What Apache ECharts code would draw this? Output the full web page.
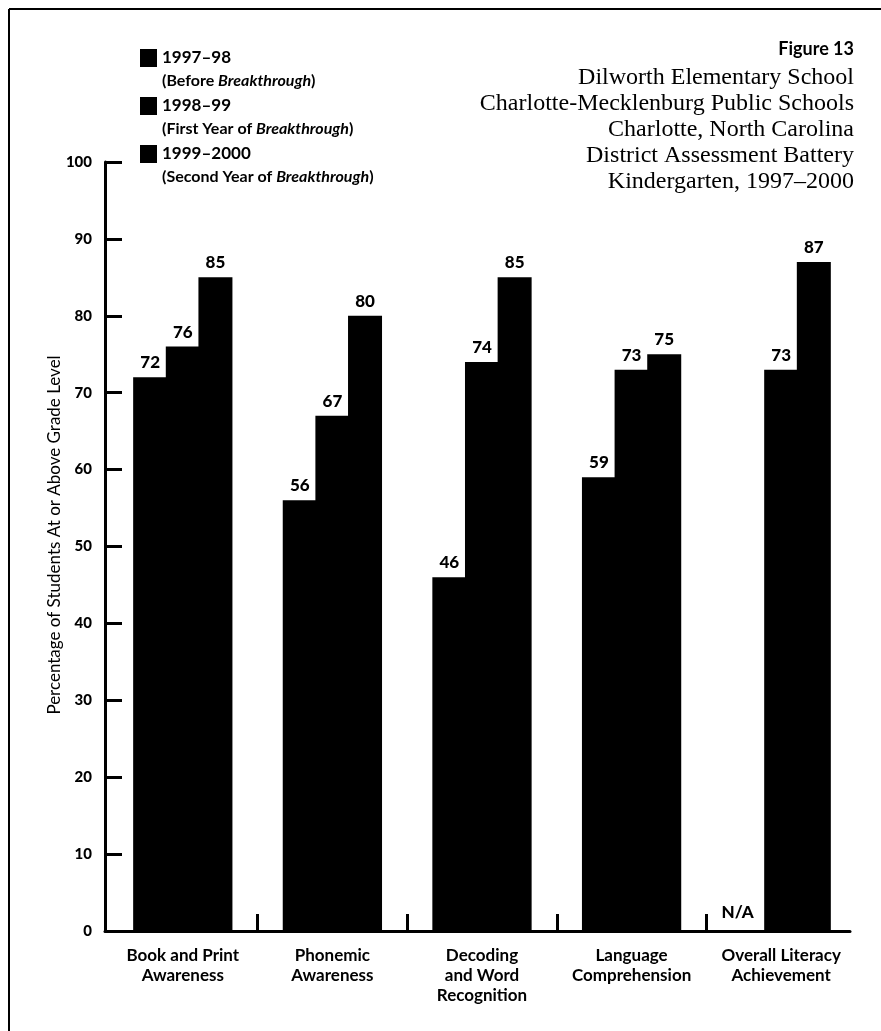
<!DOCTYPE html>
<html>
<head>
<meta charset="utf-8">
<script src="https://cdn.jsdelivr.net/npm/echarts@6/dist/echarts.min.js"></script>
<style>
  html, body { margin: 0; padding: 0; background: #fff; }
  #chart { width: 881px; height: 1031px; }
</style>
</head>
<body>
<div id="chart"></div>
<script>
// Literacy measures shown along the bottom
const categories = [
  'Book and Print\nAwareness',
  'Phonemic\nAwareness',
  'Decoding\nand Word\nRecognition',
  'Language\nComprehension',
  'Overall Literacy\nAchievement'
];

// School years and their notes in the legend
const years = ['1997–98', '1998–99', '1999–2000'];
const yearNotes = [
  ['(Before ', 'Breakthrough', ')'],
  ['(First Year of ', 'Breakthrough', ')'],
  ['(Second Year of ', 'Breakthrough', ')']
];

// Percentage of students at or above grade level (null = not available)
const values1997 = [72, 56, 46, 59, null];
const values1998 = [76, 67, 74, 73, 73];
const values1999 = [85, 80, 85, 75, 87];

const titleLines = [
  'Dilworth Elementary School',
  'Charlotte-Mecklenburg Public Schools',
  'Charlotte, North Carolina',
  'District Assessment Battery',
  'Kindergarten, 1997–2000'
];

const SANS = 'Lato, "Open Sans", sans-serif';
const SERIF = '"Liberation Serif", "DejaVu Serif", serif';

const seriesValues = [values1997, values1998, values1999];
const categoryIdx = categories.map((_, i) => i);
const dividers = categoryIdx.slice(1).map(i => i - 0.5);

function toPoints(vals) {
  return vals.map((v, i) => [i, v == null ? '-' : v]);
}

// "N/A" marker where a year has no result
const naPoints = values1997
  .map((v, i) => (v == null ? { coord: [i, 0] } : null))
  .filter(Boolean);

const valueLabel = {
  show: true,
  position: 'top',
  distance: 6,
  color: '#000',
  fontFamily: SANS,
  fontWeight: 900,
  fontSize: 17,
  formatter: p => p.value[1]
};

// Bars of one group touch each other (slight overlap hides seams)
const series = seriesValues.map((vals, s) => ({
  name: years[s],
  type: 'bar',
  data: toPoints(vals),
  barWidth: 34,
  barGap: '-4%',
  itemStyle: { color: '#000' },
  label: valueLabel,
  markPoint: s === 0 ? {
    symbol: 'circle',
    symbolSize: 0,
    silent: true,
    data: naPoints,
    label: {
      show: true,
      position: 'top',
      distance: 10,
      offset: [-11, 0],
      formatter: 'N/A',
      color: '#000',
      fontFamily: SANS,
      fontWeight: 900,
      fontSize: 17
    }
  } : undefined
}));

const chart = echarts.init(document.getElementById('chart'), null, { renderer: 'canvas' });

chart.setOption({
  backgroundColor: '#fff',
  animation: false,
  title: {
    left: 'right',
    top: 38,
    padding: [0, 27, 0, 0],
    text: 'Figure 13',
    subtext: titleLines.join('\n'),
    itemGap: 5,
    textStyle: {
      fontFamily: SANS,
      fontWeight: 'bold',
      fontSize: 18,
      lineHeight: 22,
      color: '#000'
    },
    subtextStyle: {
      fontFamily: SERIF,
      fontSize: 24,
      lineHeight: 26,
      color: '#000'
    }
  },
  legend: {
    orient: 'vertical',
    left: 135,
    top: 44,
    itemWidth: 17,
    itemHeight: 18,
    itemGap: 8,
    selectedMode: false,
    icon: 'rect',
    data: years,
    formatter: name => {
      const n = yearNotes[years.indexOf(name)];
      return '{y|' + name + '}\n{s|' + n[0] + '}{si|' + n[1] + '}{s|' + n[2] + '}';
    },
    textStyle: {
      color: '#000',
      padding: [23, 0, 0, 0],
      rich: {
        y: { fontFamily: SANS, fontWeight: 'bold', fontSize: 17, lineHeight: 23, color: '#000' },
        s: { fontFamily: SANS, fontWeight: 'bold', fontSize: 16, lineHeight: 23, color: '#000' },
        si: { fontFamily: SANS, fontWeight: 'bold', fontStyle: 'italic', fontSize: 16, lineHeight: 23, color: '#000' }
      }
    }
  },
  graphic: [
    { type: 'line', shape: { x1: 9, y1: 9, x2: 881, y2: 9 }, style: { stroke: '#000', lineWidth: 2 } },
    { type: 'line', shape: { x1: 9, y1: 9, x2: 9, y2: 1031 }, style: { stroke: '#000', lineWidth: 2 } }
  ],
  grid: {
    left: 105,
    right: 31,
    top: 162,
    bottom: 100,
    containLabel: false
  },
  xAxis: {
    type: 'value',
    min: -0.52,
    max: 4.46,
    splitLine: { show: false },
    axisLine: { show: true, onZero: false, lineStyle: { color: '#000', width: 3 } },
    axisTick: {
      show: true,
      inside: true,
      length: 17,
      customValues: dividers,
      lineStyle: { color: '#000', width: 3 }
    },
    axisLabel: {
      show: true,
      customValues: categoryIdx,
      margin: 15,
      formatter: v => categories[Math.round(v)],
      color: '#000',
      fontFamily: SANS,
      fontWeight: 'bold',
      fontSize: 17,
      lineHeight: 20,
      align: 'center'
    }
  },
  yAxis: {
    type: 'value',
    min: 0,
    max: 100,
    interval: 10,
    name: 'Percentage of Students At or Above Grade Level',
    nameLocation: 'middle',
    nameGap: 42,
    nameRotate: 90,
    nameMoveOverlap: false,
    nameTextStyle: {
      fontFamily: SANS,
      fontSize: 17,
      color: '#000',
      padding: [0, 0, 0, 23]
    },
    splitLine: { show: false },
    axisLine: { show: true, onZero: false, lineStyle: { color: '#000', width: 3 } },
    axisTick: { show: true, inside: true, length: 17, lineStyle: { color: '#000', width: 3 } },
    axisLabel: {
      color: '#000',
      fontFamily: SANS,
      fontWeight: 900,
      fontSize: 15,
      margin: 13
    }
  },
  series: series
});
</script>
</body>
</html>
